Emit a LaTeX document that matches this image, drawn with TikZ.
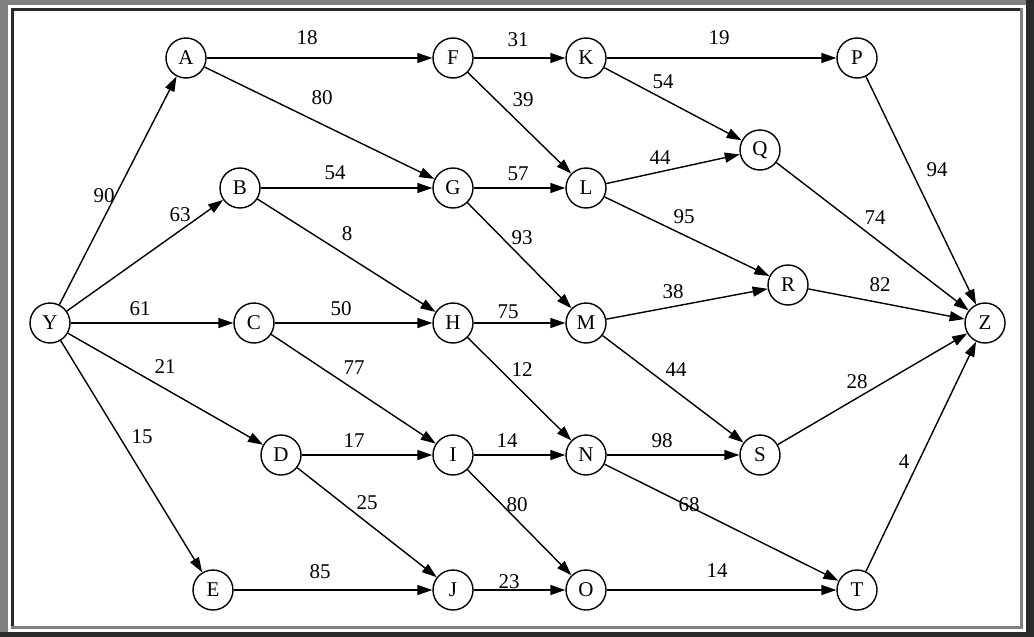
\documentclass[tikz,border=0pt]{standalone}
\usepackage{fontspec}
\setmainfont{Liberation Serif}
\usetikzlibrary{arrows.meta}
\definecolor{framegray}{HTML}{808080}
\definecolor{framedark}{HTML}{2A2A2A}
\tikzset{
  vtx/.style={circle,draw,line width=1.4pt,minimum size=40pt,inner sep=0pt,font=\fontsize{21}{23}\selectfont},
  lbl/.style={inner sep=0pt,font=\fontsize{21}{23}\selectfont},
  con/.style={line width=1.4pt,-{Triangle[length=15pt,width=10pt]}},
}
\begin{document}
\begin{tikzpicture}[x=1pt,y=-1pt]
\useasboundingbox (0,0) rectangle (1034,637);
% frame
\fill[framedark] (0,0) rectangle (1034,637);
\fill[framegray] (0,0) rectangle (1026,632);
\fill[white] (8,5) rectangle (1026,632);
\fill[framegray] (11,8) rectangle (1023,629);
\fill[framedark] (11,8) rectangle (1020,626);
\fill[white] (14,11) rectangle (1020,626);
% nodes
\node[vtx] (Y) at (50,323) {Y};
\node[vtx] (A) at (186,58) {A};
\node[vtx] (B) at (240,188) {B};
\node[vtx] (C) at (254,323) {C};
\node[vtx] (D) at (281,455) {D};
\node[vtx] (E) at (213,590) {E};
\node[vtx] (F) at (453,58) {F};
\node[vtx] (G) at (453,188) {G};
\node[vtx] (H) at (453,323) {H};
\node[vtx] (I) at (453,455) {I};
\node[vtx] (J) at (453,590) {J};
\node[vtx] (K) at (586,58) {K};
\node[vtx] (L) at (586,188) {L};
\node[vtx] (M) at (586,323) {M};
\node[vtx] (N) at (586,455) {N};
\node[vtx] (O) at (586,590) {O};
\node[vtx] (P) at (857,58) {P};
\node[vtx] (Q) at (760,150) {Q};
\node[vtx] (R) at (788,285) {R};
\node[vtx] (S) at (760,455) {S};
\node[vtx] (T) at (857,590) {T};
\node[vtx] (Z) at (985,323) {Z};
% edges
\draw[con] (A) -- (F);
\draw[con] (A) -- (G);
\draw[con] (F) -- (K);
\draw[con] (F) -- (L);
\draw[con] (K) -- (P);
\draw[con] (K) -- (Q);
\draw[con] (B) -- (G);
\draw[con] (G) -- (L);
\draw[con] (L) -- (Q);
\draw[con] (L) -- (R);
\draw[con] (G) -- (M);
\draw[con] (Y) -- (A);
\draw[con] (Y) -- (B);
\draw[con] (Y) -- (C);
\draw[con] (Y) -- (D);
\draw[con] (Y) -- (E);
\draw[con] (B) -- (H);
\draw[con] (C) -- (H);
\draw[con] (H) -- (M);
\draw[con] (M) -- (R);
\draw[con] (R) -- (Z);
\draw[con] (Q) -- (Z);
\draw[con] (P) -- (Z);
\draw[con] (C) -- (I);
\draw[con] (H) -- (N);
\draw[con] (M) -- (S);
\draw[con] (S) -- (Z);
\draw[con] (D) -- (I);
\draw[con] (I) -- (N);
\draw[con] (N) -- (S);
\draw[con] (N) -- (T);
\draw[con] (T) -- (Z);
\draw[con] (D) -- (J);
\draw[con] (I) -- (O);
\draw[con] (E) -- (J);
\draw[con] (J) -- (O);
\draw[con] (O) -- (T);
% labels
\node[lbl] (lAF) at (307,38) {18};
\node[lbl] (lAG) at (322,98) {80};
\node[lbl] (lFK) at (518,40) {31};
\node[lbl] (lFL) at (523,100) {39};
\node[lbl] (lKP) at (719,38) {19};
\node[lbl] (lKQ) at (663,82) {54};
\node[lbl] (lBG) at (335,173) {54};
\node[lbl] (lGL) at (518,174) {57};
\node[lbl] (lLQ) at (660,158) {44};
\node[lbl] (lLR) at (684,217) {95};
\node[lbl] (lGM) at (522,238) {93};
\node[lbl] (lYA) at (104,196) {90};
\node[lbl] (lYB) at (180,215) {63};
\node[lbl] (lYC) at (140,309) {61};
\node[lbl] (lYD) at (165,367) {21};
\node[lbl] (lYE) at (142,437) {15};
\node[lbl] (lBH) at (347,234) {8};
\node[lbl] (lCH) at (341,309) {50};
\node[lbl] (lHM) at (508,312) {75};
\node[lbl] (lMR) at (673,292) {38};
\node[lbl] (lRZ) at (880,285) {82};
\node[lbl] (lQZ) at (875,218) {74};
\node[lbl] (lPZ) at (937,170) {94};
\node[lbl] (lCI) at (354,368) {77};
\node[lbl] (lHN) at (522,370) {12};
\node[lbl] (lMS) at (676,370) {44};
\node[lbl] (lSZ) at (857,382) {28};
\node[lbl] (lDI) at (354,441) {17};
\node[lbl] (lIN) at (507,441) {14};
\node[lbl] (lNS) at (662,441) {98};
\node[lbl] (lNT) at (689,505) {68};
\node[lbl] (lTZ) at (904,462) {4};
\node[lbl] (lDJ) at (367,503) {25};
\node[lbl] (lIO) at (517,505) {80};
\node[lbl] (lEJ) at (320,572) {85};
\node[lbl] (lJO) at (509,582) {23};
\node[lbl] (lOT) at (717,571) {14};
\end{tikzpicture}
\end{document}
